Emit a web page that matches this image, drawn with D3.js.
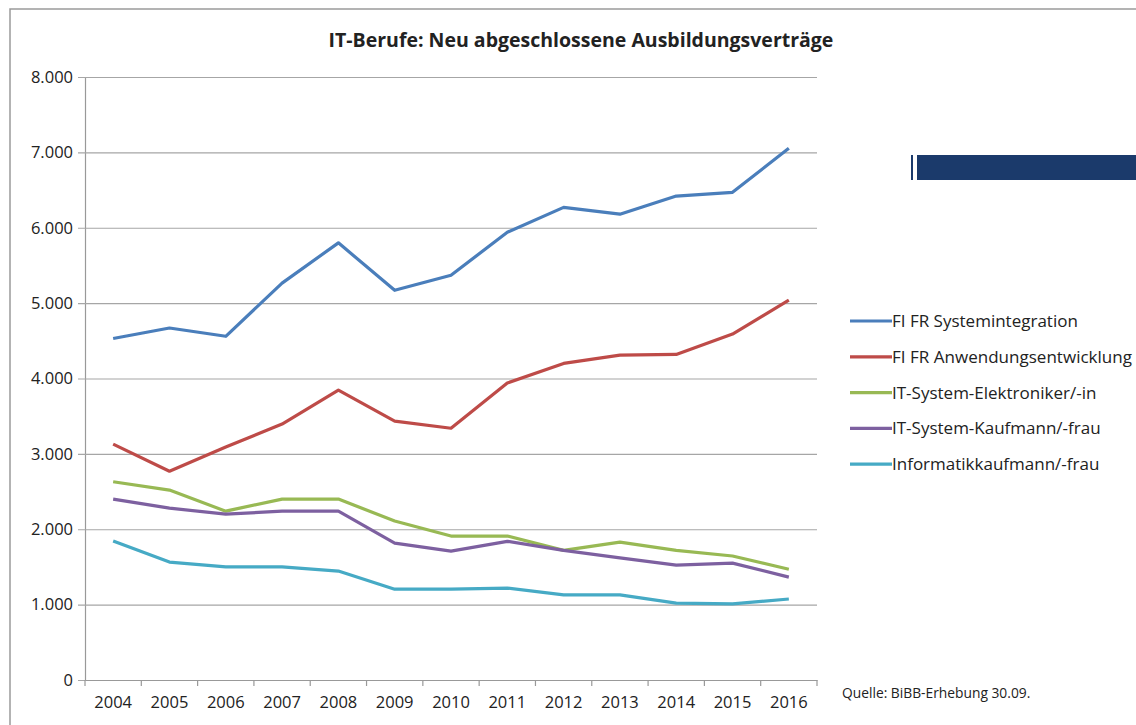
<!DOCTYPE html>
<html>
<head>
<meta charset="utf-8">
<script src="https://cdn.jsdelivr.net/npm/d3@7"></script>
<style>
  body { margin: 0; background: #fff; }
  text { font-family: "Open Sans", "Noto Sans", sans-serif; fill: #222; }
</style>
</head>
<body>
<div id="chart"></div>
<script>
var years = ["2004","2005","2006","2007","2008","2009","2010","2011","2012","2013","2014","2015","2016"];
var seriesNames = ["FI FR Systemintegration", "FI FR Anwendungsentwicklung", "IT-System-Elektroniker/-in", "IT-System-Kaufmann/-frau", "Informatikkaufmann/-frau"];
var systemintegration = [4530, 4670, 4560, 5265, 5800, 5170, 5370, 5940, 6270, 6180, 6420, 6470, 7055];
var anwendungsentwicklung = [3130, 2770, 3090, 3395, 3845, 3435, 3340, 3940, 4200, 4310, 4320, 4590, 5040];
var elektroniker = [2630, 2520, 2240, 2400, 2400, 2110, 1910, 1910, 1720, 1830, 1720, 1645, 1470];
var systemKaufmann = [2400, 2280, 2200, 2240, 2240, 1815, 1710, 1840, 1720, 1620, 1525, 1550, 1365];
var informatikkaufmann = [1845, 1565, 1500, 1500, 1445, 1205, 1205, 1220, 1130, 1130, 1020, 1010, 1075];
var yTicks = [0, 1000, 2000, 3000, 4000, 5000, 6000, 7000, 8000];
var colors = ["#4a7ebb", "#be4b48", "#98b954", "#7d60a0", "#46aac5"];

var allSeries = [systemintegration, anwendungsentwicklung, elektroniker, systemKaufmann, informatikkaufmann];

var width = 1136, height = 725;
var plotLeft = 85, plotRight = 817, plotTop = 77, plotBottom = 680;

var svg = d3.select("#chart").append("svg")
  .attr("width", width)
  .attr("height", height);

// outer frame (only top and left edge visible)
svg.append("path")
  .attr("d", "M10,725 L10,9 L1136,9")
  .attr("fill", "none")
  .attr("stroke", "#9a9a9a")
  .attr("stroke-width", 1.5);

// dark blue bar on the right
svg.append("rect").attr("x", 911).attr("y", 155).attr("width", 2).attr("height", 25).attr("fill", "#1b3a6b");
svg.append("rect").attr("x", 917).attr("y", 155).attr("width", 219).attr("height", 25).attr("fill", "#1b3a6b");

var x = d3.scaleBand().domain(years).range([plotLeft, plotRight]);
var y = d3.scaleLinear().domain([0, 8000]).range([plotBottom, plotTop]);

var fmt = function(d) { return d === 0 ? "0" : d3.format(",")(d).replace(",", "."); };

// gridlines + y axis
var yAxis = d3.axisLeft(y).tickValues(yTicks).tickFormat(fmt)
  .tickSize(-(plotRight - plotLeft)).tickPadding(12);
var gy = svg.append("g").attr("transform", "translate(" + plotLeft + ",0)").call(yAxis);
gy.select(".domain").attr("stroke", "#999").attr("stroke-width", 1.2);
gy.selectAll(".tick line").attr("stroke", "#a6a6a6").attr("stroke-width", 1.2).attr("x1", -7);
gy.selectAll(".tick text").attr("font-size", 16.5).style("fill", "#222");

// x axis
var gx = svg.append("g").attr("transform", "translate(0," + plotBottom + ")")
  .call(d3.axisBottom(x).tickSize(0).tickPadding(16));
gx.select(".domain").attr("stroke", "#999").attr("stroke-width", 1.2);
gx.selectAll(".tick text").attr("font-size", 16.5).style("fill", "#222");
var bounds = years.map(function(d) { return x(d); }).concat([x(years[years.length - 1]) + x.bandwidth()]);
gx.selectAll(".sep").data(bounds).enter().append("line")
  .attr("x1", function(d) { return d; }).attr("x2", function(d) { return d; })
  .attr("y1", 0).attr("y2", 6)
  .attr("stroke", "#999").attr("stroke-width", 1.2);

// lines
var line = d3.line()
  .x(function(d, i) { return x(years[i]) + x.bandwidth() / 2; })
  .y(function(d) { return y(d); });

svg.selectAll(".series").data(allSeries).enter().append("path")
  .attr("class", "series")
  .attr("d", line)
  .attr("fill", "none")
  .attr("stroke", function(d, i) { return colors[i]; })
  .attr("stroke-width", 3.2)
  .attr("stroke-linejoin", "round");

// title
svg.append("text")
  .attr("x", 581).attr("y", 47)
  .attr("text-anchor", "middle")
  .attr("font-size", 19.5).attr("font-weight", "bold")
  .text("IT-Berufe: Neu abgeschlossene Ausbildungsverträge");

// legend
var legend = svg.selectAll(".legend").data(seriesNames).enter().append("g")
  .attr("class", "legend")
  .attr("transform", function(d, i) { return "translate(850," + (321 + i * 35.8) + ")"; });
legend.append("line")
  .attr("x1", 0).attr("x2", 42).attr("y1", 0).attr("y2", 0)
  .attr("stroke", function(d, i) { return colors[i]; })
  .attr("stroke-width", 3.2);
legend.append("text")
  .attr("x", 42).attr("y", 6)
  .attr("font-size", 17)
  .attr("textLength", function(d, i) { return i === 1 ? 240 : null; })
  .text(function(d) { return d; });

// source
svg.append("text")
  .attr("x", 842).attr("y", 698)
  .attr("font-size", 13.8)
  .text("Quelle: BiBB-Erhebung 30.09.");
</script>
</body>
</html>
